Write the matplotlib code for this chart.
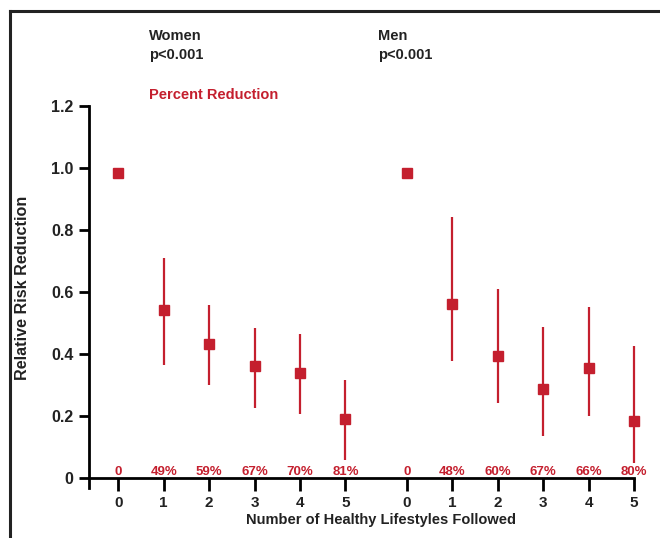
import matplotlib
matplotlib.use("Agg")
import matplotlib.pyplot as plt
from matplotlib.lines import Line2D

plt.rcParams['font.family'] = ['Liberation Sans', 'DejaVu Sans']

RED = '#C41F2E'
DARK = '#222222'

lifestyles = [0, 1, 2, 3, 4, 5]
women_rr = [0.984, 0.542, 0.432, 0.361, 0.339, 0.190]
women_lo = [None, 0.365, 0.300, 0.226, 0.206, 0.058]
women_hi = [None, 0.710, 0.558, 0.484, 0.465, 0.316]
women_pct = ['0', '49%', '59%', '67%', '70%', '81%']

men_rr = [0.983, 0.560, 0.393, 0.286, 0.354, 0.183]
men_lo = [None, 0.376, 0.242, 0.135, 0.201, 0.050]
men_hi = [None, 0.842, 0.610, 0.486, 0.552, 0.426]
men_pct = ['0', '48%', '60%', '67%', '66%', '80%']

y_ticks = [0, 0.2, 0.4, 0.6, 0.8, 1.0, 1.2]
y_ticklabels = ['0', '0.2', '0.4', '0.6', '0.8', '1.0', '1.2']

W, H = 660, 538
fig = plt.figure(figsize=(W / 100, H / 100), dpi=100)

ax_left, ax_right = 89, 634
ax_top, ax_bottom = 106, 488
ax = fig.add_axes([ax_left / W, 1 - ax_bottom / H, (ax_right - ax_left) / W, (ax_bottom - ax_top) / H])

men_offset = 6.355
wx = [float(i) for i in lifestyles]
mx = [men_offset + i for i in lifestyles]


def draw(xs, rr, lo, hi, pct):
    for x, r, l, h, p in zip(xs, rr, lo, hi, pct):
        if l is not None:
            ax.plot([x, x], [l, h], color=RED, lw=1.6, solid_capstyle='butt', zorder=2, clip_on=False)
        ax.plot([x], [r], marker='s', ms=7.4, color=RED, mec=RED, zorder=3, clip_on=False)
        ax.text(x, 0.011, p, color=RED, fontsize=9.5, fontweight='bold', ha='center', va='baseline')


draw(wx, women_rr, women_lo, women_hi, women_pct)
draw(mx, men_rr, men_lo, men_hi, men_pct)

ax.set_xlim(-0.645, men_offset + 5)
ax.set_ylim(-0.032, 1.2)

for s in ['top', 'right']:
    ax.spines[s].set_visible(False)
ax.spines['bottom'].set_position(('data', 0))
ax.spines['bottom'].set_linewidth(2)
ax.spines['left'].set_linewidth(2)
ax.spines['bottom'].set_color('black')
ax.spines['left'].set_color('black')

ax.set_xticks(wx + mx)
ax.set_xticklabels([str(i) for i in lifestyles] * 2)
ax.set_yticks(y_ticks)
ax.set_yticklabels(y_ticklabels)
ax.tick_params(axis='x', direction='out', length=9, width=2, pad=4, labelsize=11, colors=DARK)
ax.tick_params(axis='y', direction='out', length=7, width=2, pad=4, labelsize=11.5, colors=DARK)
for lab in ax.get_xticklabels() + ax.get_yticklabels():
    lab.set_fontweight('bold')
ax.tick_params(axis='both', color='black')

fig.text(381 / W, 1 - 520 / H, 'Number of Healthy Lifestyles Followed', ha='center', va='center',
         fontsize=10.5, fontweight='bold', color=DARK)
fig.text(23 / W, 1 - 288 / H, 'Relative Risk Reduction', ha='center', va='center', rotation=90,
         fontsize=11.6, fontweight='bold', color=DARK)

fig.text(149 / W, 1 - 40 / H, 'Women', fontsize=10.5, fontweight='bold', color=DARK, va='baseline')
fig.text(149 / W, 1 - 59 / H, 'p<0.001', fontsize=10.5, fontweight='bold', color=DARK, va='baseline')
fig.text(378 / W, 1 - 40 / H, 'Men', fontsize=10.5, fontweight='bold', color=DARK, va='baseline')
fig.text(378 / W, 1 - 59 / H, 'p<0.001', fontsize=10.5, fontweight='bold', color=DARK, va='baseline')
fig.text(149 / W, 1 - 99 / H, 'Percent Reduction', fontsize=10.5, fontweight='bold', color=RED, va='baseline')

# outer frame (left and top)
fig.add_artist(Line2D([10 / W, 10 / W], [0, 1 - 11 / H], transform=fig.transFigure, color=DARK, lw=2.2))
fig.add_artist(Line2D([10 / W, 1], [1 - 11 / H, 1 - 11 / H], transform=fig.transFigure, color=DARK, lw=2.2))

fig.savefig('out.png', dpi=100)
